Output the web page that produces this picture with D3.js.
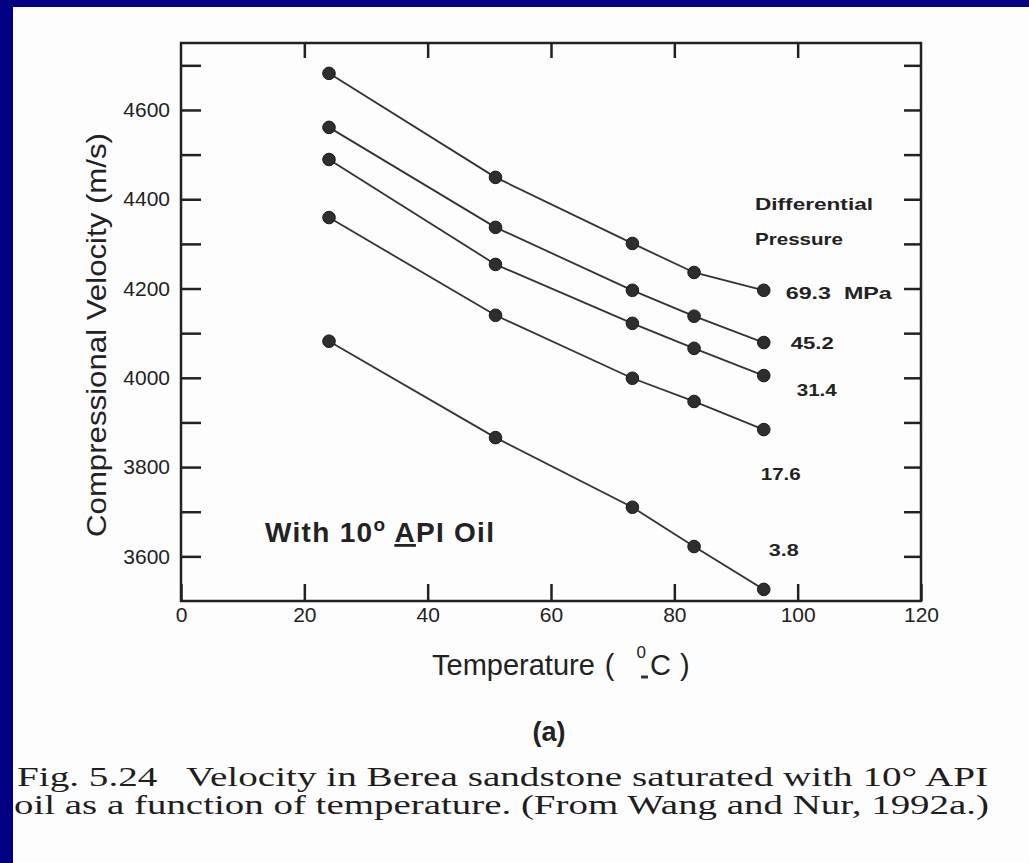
<!DOCTYPE html>
<html>
<head>
<meta charset="utf-8">
<script src="https://cdn.jsdelivr.net/npm/d3@7"></script>
<style>
  body { margin: 0; background: #000080; }
  svg { display: block; }
  text { font-family: "Liberation Sans", Arial, sans-serif; fill: #222; white-space: pre; }
  .serif { font-family: "Liberation Serif", "Times New Roman", serif; fill: #1e1e1e; }
</style>
</head>
<body>
<svg width="1029" height="863"></svg>
<script>
// temperatures (deg C) where velocities were measured
const temps = [24, 51, 73.2, 83.2, 94.5]

// compressional velocity (m/s) per differential pressure
const p693 = [4682, 4449, 4301, 4236, 4196]
const p452 = [4561, 4337, 4196, 4138, 4079]
const p314 = [4489, 4254, 4122, 4066, 4005]
const p176 = [4359, 4140, 3999, 3947, 3884]
const p38  = [4082, 3866, 3710, 3622, 3526]

const pressures = ["69.3  MPa", "45.2", "31.4", "17.6", "3.8"]
const xTicks = [0, 20, 40, 60, 80, 100, 120]
const yTicks = [3600, 3800, 4000, 4200, 4400, 4600]

const seriesList = [p693, p452, p314, p176, p38]
// where each pressure label sits relative to its last point, and its width
const labelShift = [[22, 9], [27, 6], [33, 20], [-3, 50], [5, -33]]
const labelWidth = [106, 43, 40, 40, 30]

let width = 1029,
    height = 863,
    plotLeft = 181,
    plotRight = 921,
    plotTop = 43,
    plotBottom = 601

const svg = d3.select("svg")

// scanned page
svg.append("rect")
    .attr("x", 13).attr("y", 7)
    .attr("width", width - 13).attr("height", height - 7)
    .attr("fill", "#fdfdfd")

const x = d3.scaleLinear().domain([0, 120]).range([plotLeft, plotRight])
const y = d3.scaleLinear().domain([3500, 4750]).range([plotBottom, plotTop])

const minorY = d3.range(3600, 4701, 100)

// frame
svg.append("rect")
    .attr("x", plotLeft).attr("y", plotTop)
    .attr("width", plotRight - plotLeft).attr("height", plotBottom - plotTop)
    .attr("fill", "none")
    .attr("stroke", "#222")
    .attr("stroke-width", 2.5)

const styleAxis = g => {
    g.select(".domain").remove()
    g.selectAll("line").attr("stroke", "#222").attr("stroke-width", 2.5)
    g.selectAll("text")
        .style("font-family", "'Liberation Sans', Arial, sans-serif")
        .style("font-size", "21px")
        .attr("fill", "#2a2a2a")
}

svg.append("g")
    .attr("transform", `translate(0,${plotBottom})`)
    .call(d3.axisBottom(x).tickValues(xTicks).tickSize(-17).tickPadding(6))
    .call(styleAxis)

svg.append("g")
    .attr("transform", `translate(0,${plotTop})`)
    .call(d3.axisTop(x).tickValues(xTicks.slice(1, -1)).tickSize(-15).tickFormat(""))
    .call(styleAxis)

svg.append("g")
    .attr("transform", `translate(${plotLeft},0)`)
    .call(d3.axisLeft(y).tickValues(minorY).tickSize(-20).tickPadding(11)
        .tickFormat(d => yTicks.includes(d) ? d : ""))
    .call(styleAxis)

svg.append("g")
    .attr("transform", `translate(${plotRight},0)`)
    .call(d3.axisRight(y).tickValues(minorY).tickSize(-17).tickFormat(""))
    .call(styleAxis)

// series
const line = d3.line()
    .x((d, i) => x(temps[i]))
    .y(d => y(d))

svg.selectAll(".series")
    .data(seriesList)
    .enter()
    .append("path")
    .attr("d", line)
    .attr("fill", "none")
    .attr("stroke", "#333")
    .attr("stroke-width", 1.8)

seriesList.forEach(s => {
    svg.selectAll(null)
        .data(s)
        .enter()
        .append("circle")
        .attr("cx", (d, i) => x(temps[i]))
        .attr("cy", d => y(d))
        .attr("r", 6.3)
        .attr("fill", "#2e2e2e")
        .attr("stroke", "#1a1a1a")
        .attr("stroke-width", 1)
})

// pressure labels
svg.selectAll(".plabel")
    .data(seriesList)
    .enter()
    .append("text")
    .attr("x", (s, i) => x(temps[4]) + labelShift[i][0])
    .attr("y", (s, i) => y(s[4]) + labelShift[i][1])
    .attr("textLength", (s, i) => labelWidth[i])
    .attr("lengthAdjust", "spacingAndGlyphs")
    .style("font-size", "17px")
    .style("font-weight", "bold")
    .text((s, i) => pressures[i])

svg.append("text")
    .attr("x", 755).attr("y", 210)
    .attr("textLength", 118).attr("lengthAdjust", "spacingAndGlyphs")
    .style("font-size", "17px").style("font-weight", "bold")
    .text("Differential")

svg.append("text")
    .attr("x", 755).attr("y", 245)
    .attr("textLength", 88).attr("lengthAdjust", "spacingAndGlyphs")
    .style("font-size", "17px").style("font-weight", "bold")
    .text("Pressure")

// annotation
const note = svg.append("text")
    .attr("x", 265).attr("y", 542)
    .style("font-size", "28px").style("font-weight", "bold")
    .style("letter-spacing", "1.3px")
note.append("tspan").text("With 10")
note.append("tspan").attr("dy", -11).style("font-size", "19px").text("o")
note.append("tspan").attr("dy", 11).text(" ")
note.append("tspan").style("text-decoration", "underline").text("A")
note.append("tspan").text("PI Oil")

// axis titles
svg.append("text")
    .attr("transform", "translate(106,537) rotate(-90)")
    .attr("textLength", 404).attr("lengthAdjust", "spacingAndGlyphs")
    .style("font-size", "28px")
    .text("Compressional Velocity (m/s)")

const xt = svg.append("text")
    .attr("x", 432).attr("y", 675)
    .style("font-size", "29px")
xt.append("tspan").text("Temperature")
xt.append("tspan").attr("dx", 10).text("(")
xt.append("tspan").attr("dx", 22).attr("dy", -17).style("font-size", "17px").text("0")
xt.append("tspan").attr("dx", 4).attr("dy", 17).text("C")
xt.append("tspan").attr("dx", 9).text(")")
svg.append("line")
    .attr("x1", 641).attr("x2", 648)
    .attr("y1", 677).attr("y2", 677)
    .attr("stroke", "#333").attr("stroke-width", 3)

svg.append("text")
    .attr("x", 549).attr("y", 741)
    .attr("text-anchor", "middle")
    .style("font-size", "27px").style("font-weight", "bold")
    .text("(a)")

// caption
svg.append("text")
    .attr("class", "serif")
    .attr("x", 17).attr("y", 786)
    .attr("textLength", 971).attr("lengthAdjust", "spacingAndGlyphs")
    .style("font-size", "27px")
    .text("Fig. 5.24   Velocity in Berea sandstone saturated with 10° API")

svg.append("text")
    .attr("class", "serif")
    .attr("x", 14).attr("y", 814)
    .attr("textLength", 975).attr("lengthAdjust", "spacingAndGlyphs")
    .style("font-size", "27px")
    .text("oil as a function of temperature. (From Wang and Nur, 1992a.)")
</script>
</body>
</html>
